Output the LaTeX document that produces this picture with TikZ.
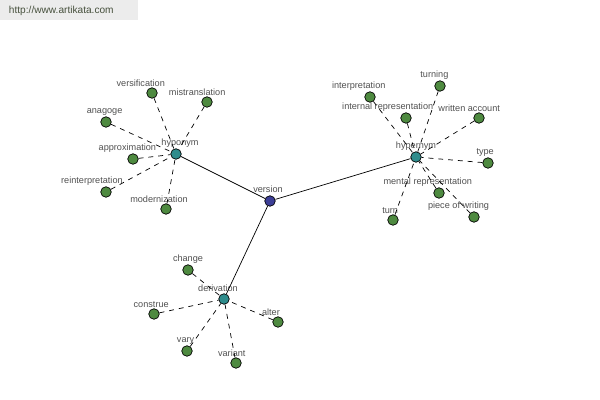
\documentclass[tikz,border=0pt]{standalone}
\usepackage{fontspec}
\setsansfont{Liberation Sans}
\usepackage{xcolor}
\usepackage{tikz}
\usetikzlibrary{positioning}

\definecolor{leafgreen}{RGB}{78,138,64}
\definecolor{hubteal}{RGB}{46,140,140}
\definecolor{rootblue}{RGB}{60,62,150}
\definecolor{txtgrey}{RGB}{80,80,80}
\definecolor{urlbox}{RGB}{236,236,236}
\definecolor{urltext}{RGB}{70,80,60}

\tikzset{
    leaf/.style={circle, draw=black, line width=0.5pt, fill=leafgreen, minimum size=7.5pt, inner sep=0pt},
    hub/.style={leaf, fill=hubteal},
    root/.style={leaf, fill=rootblue},
    lbl/.style={font=\sffamily\fontsize{6.5}{7.5}\selectfont, text=txtgrey, inner sep=0.5pt},
    rel/.style={black, line width=0.5pt},
    syn/.style={black, line width=0.5pt, dash pattern=on 3.5pt off 3.5pt}
}

\begin{document}
\begin{tikzpicture}[x=0.025cm, y=-0.025cm]
    \useasboundingbox (0,0) rectangle (600,400);

    % Source stamp
    \fill[urlbox] (0,0) rectangle (138,20);
    \node[lbl, anchor=west, text=urltext, font=\sffamily\fontsize{7.2}{8}\selectfont] (url) at (8,11) {http://www.artikata.com};

    % Centre and hubs
    \node[root] (version) at (270,201) {};
    \node[hub] (hyponym) at (176,154) {};
    \node[hub] (hypernym) at (416,157) {};
    \node[hub] (derivation) at (224,299) {};

    \node[lbl] at (268,189) {version};
    \node[lbl] at (180,143) {hyponym};
    \node[lbl] at (416,146) {hypernym};
    \node[lbl] at (218,288) {derivation};

    % Hyponym leaves
    \node[leaf, label={[lbl, xshift=-8]above:versification}] (versification) at (152,93) {};
    \node[leaf, label={[lbl, xshift=-7]above:mistranslation}] (mistranslation) at (207,102) {};
    \node[leaf, label={[lbl, xshift=-1]above:anagoge}] (anagoge) at (106,122) {};
    \node[leaf, label={[lbl, xshift=-4]above:approximation}] (approximation) at (133,159) {};
    \node[leaf, label={[lbl, xshift=-10]above:reinterpretation}] (reinterpretation) at (106,192) {};
    \node[leaf, label={[lbl, xshift=-5]above:modernization}] (modernization) at (166,209) {};

    % Hypernym leaves
    \node[leaf, label={[lbl, xshift=-8]above:interpretation}] (interpretation) at (370,97) {};
    \node[leaf, label={[lbl, xshift=-4]above:turning}] (turning) at (440,86) {};
    \node[leaf, label={[lbl, xshift=-13]above:internal representation}] (internal) at (406,118) {};
    \node[leaf, label={[lbl, xshift=-7]above:written account}] (written) at (479,118) {};
    \node[leaf, label={[lbl, xshift=-2]above:type}] (type) at (488,163) {};
    \node[leaf, label={[lbl, xshift=-8]above:mental representation}] (mental) at (439,193) {};
    \node[leaf, label={[lbl, xshift=-2]above:turn}] (turn) at (393,220) {};
    \node[leaf, label={[lbl, xshift=-11]above:piece of writing}] (piece) at (474,217) {};

    % Derivation leaves
    \node[leaf, label={[lbl]above:change}] (change) at (188,270) {};
    \node[leaf, label={[lbl, xshift=-2]above:construe}] (construe) at (154,314) {};
    \node[leaf, label={[lbl, xshift=-5]above:alter}] (alter) at (278,322) {};
    \node[leaf, label={[lbl, xshift=-1]above:vary}] (vary) at (187,351) {};
    \node[leaf, label={[lbl, xshift=-3]above:variant}] (variant) at (236,363) {};

    % Relations to the centre
    \draw[rel] (version) -- (hyponym);
    \draw[rel] (version) -- (hypernym);
    \draw[rel] (version) -- (derivation);

    % Dashed links to hubs
    \foreach \leafname in {versification, mistranslation, anagoge, approximation, reinterpretation, modernization}
        \draw[syn] (\leafname) -- (hyponym);
    \foreach \leafname in {interpretation, turning, internal, written, type, mental, turn, piece}
        \draw[syn] (\leafname) -- (hypernym);
    \foreach \leafname in {change, construe, alter, vary, variant}
        \draw[syn] (\leafname) -- (derivation);
\end{tikzpicture}
\end{document}
